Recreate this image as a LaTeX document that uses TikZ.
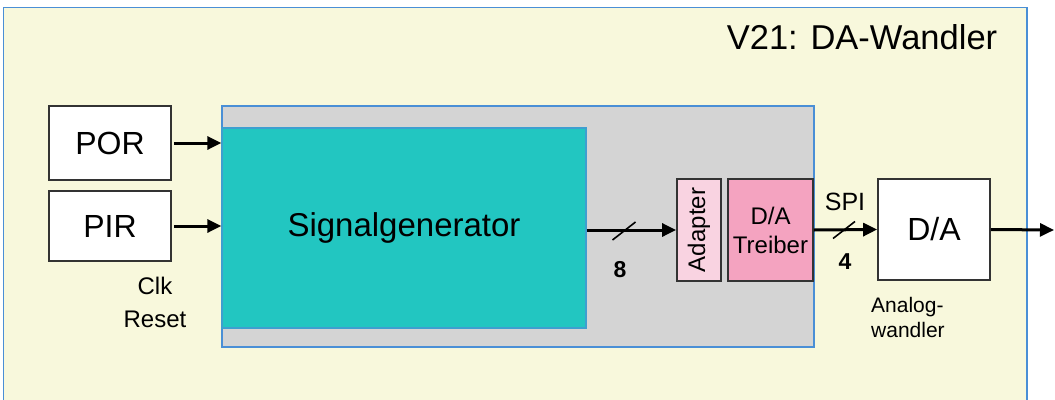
\documentclass[tikz,border=0pt]{standalone}
\usepackage{fontspec}
\setmainfont{Liberation Sans}
\usetikzlibrary{arrows.meta,calc}
\definecolor{panel}{HTML}{F8F8DC}
\definecolor{frameblue}{HTML}{4A8FD6}
\definecolor{boxgray}{HTML}{D4D4D4}
\definecolor{teal}{HTML}{22C6C1}
\definecolor{pinklight}{HTML}{F9D3E1}
\definecolor{pinkdark}{HTML}{F4A3C0}
\definecolor{edge}{HTML}{333333}
\newcommand{\fs}[1]{\fontsize{#1}{#1}\selectfont}
\newcommand{\fsl}[2]{\fontsize{#1}{#2}\selectfont}
\tikzset{
  blk/.style={draw=edge, line width=1.8pt, inner sep=0pt, anchor=center},
  sig/.style={line width=3pt, -{Triangle[length=14pt,width=13pt]}},
  busmark/.style={line width=1.6pt},
  lbl/.style={inner sep=0pt},
}
\begin{document}
\begin{tikzpicture}[x=1pt,y=-1pt]
\useasboundingbox (0,0) rectangle (1055,399);
\clip (0,0) rectangle (1055,399);
\fill[white] (0,0) rectangle (1055,399);
% outer panel
\draw[fill=panel, draw=frameblue, line width=1.5pt] (3.5,7.5) rectangle (1027,420);
\node[anchor=center, inner sep=0pt, font={\fs{34.5}}] (title) at (862,37) {V21: DA-Wandler};

% FPGA area and signal generator
\node[draw=frameblue, fill=boxgray, line width=1.3pt, inner sep=0pt, minimum width=592pt, minimum height=241pt] (fpga) at (518,226.5) {};
\node[draw=frameblue!70!teal, fill=teal, line width=1.3pt, inner sep=0pt, minimum width=364pt, minimum height=200pt, font={\fs{33}}] (gen) at (404,228) {Signalgenerator};

% input blocks
\node[blk, fill=white, minimum width=122pt, minimum height=74pt, font={\fs{32}}] (por) at (110,143) {POR};
\node[blk, fill=white, minimum width=122pt, minimum height=70pt, font={\fs{32}}] (pir) at (110,226) {PIR};
\node[lbl, align=center, font={\fsl{24}{33}}] (clk) at (155,302) {Clk\\Reset};

% driver blocks
\node[blk, fill=pinklight, minimum width=44pt, minimum height=102pt] (adapter) at (699,230) {};
\node[rotate=90, inner sep=0pt, font={\fs{24}}] (adaptertext) at (adapter.center) {Adapter};
\node[blk, fill=pinkdark, minimum width=85pt, minimum height=102pt, align=center, font={\fsl{24}{29}}] (treiber) at (770.5,230) {D/A\\Treiber};

% converter
\node[blk, fill=white, minimum width=112pt, minimum height=101pt, font={\fs{32}}] (da) at (934,229.5) {D/A};
\node[lbl, anchor=west, align=left, font={\fsl{21}{25}}] (analog) at (871,317) {Analog-\\wandler};

% connections
\draw[sig] ([xshift=2pt]por.east) -- (por.east -| gen.west);
\draw[sig] ([xshift=2pt]pir.east) -- (pir.east -| gen.west);
\draw[sig] (gen.east |- adapter.west) -- (adapter.west);
\draw[sig] (treiber.east) -- (da.west);
\coordinate (out) at (1054,230);
\draw[sig] (da.east) -- (out);

% bus width marks
\draw[busmark] (624,231) ++(-11.5,9) -- ++(23,-18);
\node[lbl, font={\bfseries\fs{23}}] (eight) at (620,270) {8};
\draw[busmark] (844,230) ++(-11,8.5) -- ++(22,-17);
\node[lbl, font={\bfseries\fs{23}}] (four) at (845,262) {4};
\node[lbl, font={\fs{25}}] (spi) at (845,202) {SPI};
\end{tikzpicture}
\end{document}
